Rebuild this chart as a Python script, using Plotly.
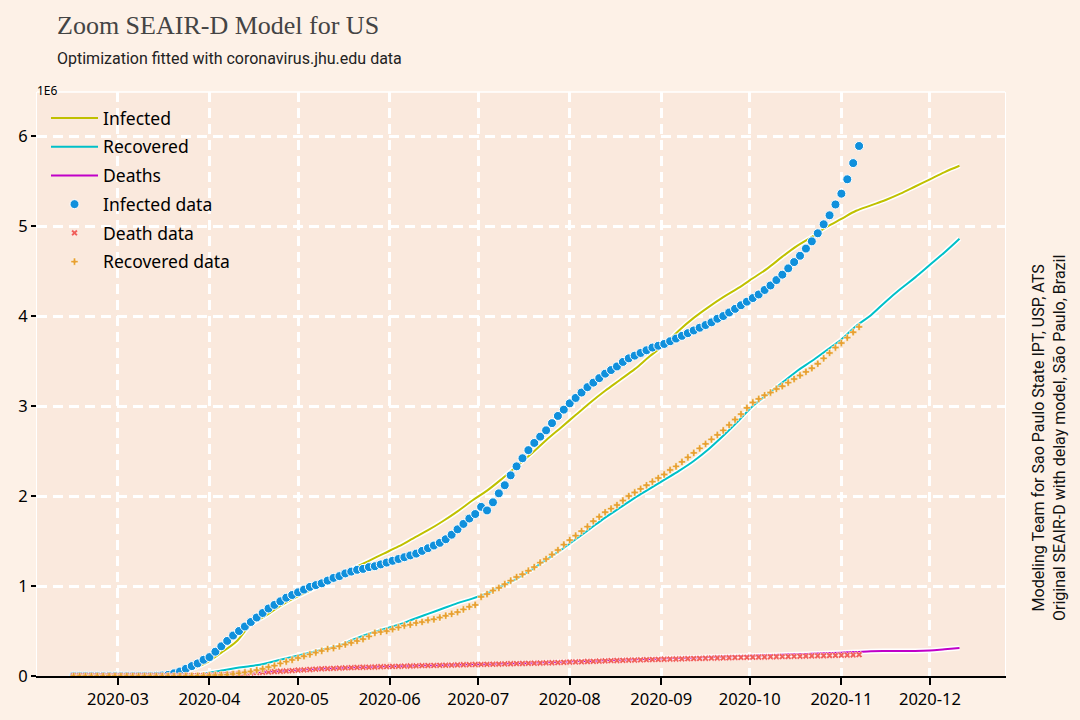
import plotly.graph_objects as go
import pandas as pd

# ---------------- data (values in millions) ----------------
data_start = "2020-02-15"   # observed data, every 2 days until 2020-11-07
model_start = "2020-02-15"  # model curves, every 5 days until 2020-12-11

infected_data = [
    0.0, 0.0, 0.0, 0.0, 0.0, 0.0, 0.0, 0.0, 0.0, 0.0,
    0.0, 0.0, 0.0, 0.0, 0.002, 0.005, 0.012, 0.03, 0.05, 0.08,
    0.11, 0.14, 0.18, 0.21, 0.27, 0.33, 0.39, 0.45, 0.50, 0.55,
    0.60, 0.65, 0.70, 0.75, 0.79, 0.83, 0.87, 0.90, 0.93, 0.96,
    0.99, 1.01, 1.03, 1.06, 1.09, 1.11, 1.14, 1.16, 1.18, 1.19,
    1.21, 1.22, 1.24, 1.26, 1.28, 1.30, 1.32, 1.34, 1.36, 1.39,
    1.42, 1.45, 1.48, 1.52, 1.57, 1.63, 1.69, 1.75, 1.80, 1.88,
    1.84, 1.93, 2.03, 2.12, 2.23, 2.33, 2.42, 2.51, 2.59, 2.66,
    2.73, 2.81, 2.89, 2.96, 3.03, 3.09, 3.15, 3.21, 3.26, 3.31,
    3.36, 3.40, 3.44, 3.49, 3.53, 3.56, 3.59, 3.62, 3.65, 3.67,
    3.69, 3.72, 3.75, 3.78, 3.81, 3.84, 3.87, 3.90, 3.93, 3.97,
    4.00, 4.04, 4.08, 4.12, 4.16, 4.20, 4.24, 4.29, 4.34, 4.40,
    4.46, 4.53, 4.60, 4.67, 4.75, 4.83, 4.92, 5.02, 5.12, 5.24,
    5.36, 5.52, 5.70, 5.89,
]

death_data = [
    0.0, 0.0, 0.0, 0.0, 0.0, 0.0, 0.0, 0.0, 0.0, 0.0,
    0.0, 0.0, 0.0, 0.0, 0.0, 0.0, 0.0, 0.0, 0.001, 0.001,
    0.002, 0.003, 0.004, 0.006, 0.009, 0.012, 0.016, 0.020, 0.025, 0.029,
    0.033, 0.038, 0.041, 0.045, 0.050, 0.053, 0.056, 0.060, 0.065, 0.068,
    0.072, 0.076, 0.080, 0.082, 0.085, 0.088, 0.090, 0.092, 0.095, 0.097,
    0.098, 0.100, 0.103, 0.104, 0.106, 0.108, 0.110, 0.111, 0.113, 0.115,
    0.116, 0.117, 0.119, 0.120, 0.121, 0.123, 0.125, 0.126, 0.128, 0.129,
    0.130, 0.131, 0.133, 0.135, 0.136, 0.138, 0.139, 0.141, 0.142, 0.144,
    0.146, 0.147, 0.149, 0.152, 0.155, 0.156, 0.158, 0.161, 0.163, 0.165,
    0.168, 0.171, 0.172, 0.174, 0.176, 0.177, 0.179, 0.181, 0.183, 0.184,
    0.186, 0.188, 0.189, 0.190, 0.192, 0.194, 0.195, 0.197, 0.199, 0.200,
    0.201, 0.203, 0.205, 0.206, 0.207, 0.209, 0.210, 0.211, 0.213, 0.214,
    0.215, 0.216, 0.218, 0.219, 0.221, 0.223, 0.224, 0.225, 0.227, 0.229,
    0.231, 0.232, 0.234, 0.237,
]

recovered_data = [
    0.0, 0.0, 0.0, 0.0, 0.0, 0.0, 0.0, 0.0, 0.0, 0.0,
    0.0, 0.0, 0.0, 0.0, 0.0, 0.0, 0.0, 0.0, 0.0, 0.001,
    0.002, 0.003, 0.005, 0.008, 0.010, 0.012, 0.015, 0.022, 0.030, 0.040,
    0.050, 0.065, 0.080, 0.100, 0.115, 0.140, 0.160, 0.180, 0.200, 0.220,
    0.240, 0.260, 0.280, 0.300, 0.310, 0.330, 0.350, 0.370, 0.390, 0.410,
    0.440, 0.480, 0.490, 0.500, 0.520, 0.540, 0.560, 0.570, 0.590, 0.600,
    0.620, 0.630, 0.650, 0.670, 0.690, 0.710, 0.740, 0.770, 0.790, 0.880,
    0.910, 0.950, 0.980, 1.020, 1.060, 1.100, 1.130, 1.170, 1.210, 1.260,
    1.300, 1.350, 1.400, 1.460, 1.510, 1.560, 1.610, 1.660, 1.720, 1.770,
    1.820, 1.860, 1.900, 1.950, 2.000, 2.040, 2.080, 2.120, 2.160, 2.200,
    2.240, 2.290, 2.330, 2.380, 2.430, 2.480, 2.530, 2.580, 2.630, 2.680,
    2.730, 2.790, 2.850, 2.910, 2.980, 3.040, 3.080, 3.120, 3.150, 3.190,
    3.220, 3.260, 3.300, 3.340, 3.380, 3.420, 3.470, 3.530, 3.590, 3.650,
    3.700, 3.760, 3.820, 3.880,
]

infected_model = [
    0.0, 0.0, 0.0, 0.0, 0.0, 0.002, 0.008, 0.03, 0.08, 0.15,
    0.26, 0.38, 0.57, 0.67, 0.78, 0.87, 0.95, 1.03, 1.11, 1.20,
    1.28, 1.36, 1.44, 1.53, 1.62, 1.72, 1.83, 1.95, 2.06, 2.19,
    2.33, 2.47, 2.62, 2.76, 2.90, 3.04, 3.17, 3.29, 3.41, 3.55,
    3.68, 3.84, 3.98, 4.10, 4.21, 4.31, 4.42, 4.53, 4.66, 4.78,
    4.88, 4.99, 5.08, 5.17, 5.23, 5.29, 5.36, 5.44, 5.52, 5.60,
    5.67,
]

recovered_model = [
    0.0, 0.0, 0.0, 0.0, 0.0, 0.0, 0.0, 0.003, 0.01, 0.03,
    0.06, 0.09, 0.11, 0.14, 0.18, 0.22, 0.26, 0.30, 0.34, 0.41,
    0.47, 0.52, 0.57, 0.63, 0.69, 0.75, 0.81, 0.86, 0.92, 1.00,
    1.08, 1.18, 1.29, 1.40, 1.52, 1.64, 1.76, 1.87, 1.98, 2.08,
    2.18, 2.28, 2.39, 2.52, 2.67, 2.83, 3.00, 3.13, 3.26, 3.39,
    3.50, 3.62, 3.74, 3.89, 4.01, 4.16, 4.30, 4.43, 4.57, 4.71,
    4.86,
]

deaths_model = [
    0.0, 0.0, 0.0, 0.0, 0.0, 0.0, 0.0, 0.001, 0.003, 0.006,
    0.012, 0.022, 0.033, 0.045, 0.055, 0.065, 0.074, 0.082, 0.089, 0.095,
    0.100, 0.105, 0.110, 0.114, 0.118, 0.122, 0.126, 0.130, 0.134, 0.138,
    0.142, 0.147, 0.152, 0.157, 0.163, 0.168, 0.174, 0.180, 0.185, 0.190,
    0.196, 0.201, 0.206, 0.211, 0.216, 0.221, 0.226, 0.231, 0.236, 0.241,
    0.247, 0.253, 0.259, 0.266, 0.275, 0.277, 0.277, 0.278, 0.284, 0.297,
    0.310,
]

y_ticks = [0, 1, 2, 3, 4, 5, 6]
x_ticks = ["2020-03-01", "2020-04-01", "2020-05-01", "2020-06-01", "2020-07-01",
           "2020-08-01", "2020-09-01", "2020-10-01", "2020-11-01", "2020-12-01"]
x_tick_labels = ["2020-03", "2020-04", "2020-05", "2020-06", "2020-07",
                 "2020-08", "2020-09", "2020-10", "2020-11", "2020-12"]

title_text = "Zoom SEAIR-D Model for US"
subtitle_text = "Optimization fitted with coronavirus.jhu.edu data"
credit_1 = "Modeling Team for Sao Paulo State IPT, USP, ATS"
credit_2 = "Original SEAIR-D with delay model, São Paulo, Brazil"

data_dates = pd.date_range(data_start, periods=len(infected_data), freq="2D")
model_dates = pd.date_range(model_start, periods=len(infected_model), freq="5D")

# ---------------- layout geometry ----------------
W, H = 1080, 720
ML, MR, MT, MB = 37, 75, 92, 44
PW, PH = W - ML - MR, H - MT - MB


def px(x):
    return (x - ML) / PW


def py(y):
    return (H - MB - y) / PH


# ---------------- styles ----------------
C_INF = "#c0c000"
C_REC = "#00c0c8"
C_DEA = "#c000c8"
C_INF_D = "#1090dc"
C_DEA_D = "#f0605a"
C_REC_D = "#e8a030"
HAND = "Noto Sans"

fig = go.Figure()

for i, (name, ys, col) in enumerate([("Infected", infected_model, C_INF),
                                      ("Recovered", recovered_model, C_REC),
                                      ("Deaths", deaths_model, C_DEA)]):
    fig.add_trace(go.Scatter(x=model_dates, y=ys, mode="lines",
                             line=dict(color="white", width=5, shape="spline"),
                             showlegend=False, hoverinfo="skip"))
    fig.add_trace(go.Scatter(x=model_dates, y=ys, mode="lines", name=name,
                             legendgroup="g%d" % i,
                             line=dict(color=col, width=2, shape="spline")))

fig.add_trace(go.Scatter(x=data_dates, y=infected_data, mode="markers", name="Infected data",
                         legendgroup="g3",
                         marker=dict(symbol="circle", size=9, color=C_INF_D,
                                     line=dict(color="white", width=1))))
fig.add_trace(go.Scatter(x=data_dates, y=death_data, mode="markers", name="Death data",
                         legendgroup="g4",
                         marker=dict(symbol="x", size=6, color=C_DEA_D,
                                     line=dict(color="white", width=0.5))))
fig.add_trace(go.Scatter(x=data_dates, y=recovered_data, mode="markers", name="Recovered data",
                         legendgroup="g5",
                         marker=dict(symbol="cross", size=6, color=C_REC_D,
                                     line=dict(color="white", width=0.5))))

fig.update_layout(
    width=W, height=H,
    paper_bgcolor="#fdf1e7",
    plot_bgcolor="#fae9dd",
    margin=dict(l=ML, r=MR, t=MT, b=MB),
    showlegend=True,
    legend=dict(x=px(46), y=py(100), xanchor="left", yanchor="top",
                bgcolor="rgba(0,0,0,0)", font=dict(family=HAND, size=17.5, color="black"),
                itemwidth=47, tracegroupgap=3, traceorder="grouped"),
    xaxis=dict(
        range=["2020-02-02 14:00", "2020-12-26 10:00"],
        tickvals=x_ticks, ticktext=x_tick_labels,
        tickfont=dict(family=HAND, size=16.5, color="black"),
        ticks="outside", ticklen=7, tickwidth=2, tickcolor="black",
        showline=True, linecolor="black", linewidth=2,
        showgrid=True, gridcolor="white", gridwidth=3, griddash="10px,6px",
        zeroline=False, automargin=False,
    ),
    yaxis=dict(
        range=[0, 6.49],
        tickvals=y_ticks, ticktext=[str(v) for v in y_ticks],
        tickfont=dict(family=HAND, size=16.5, color="black"),
        ticks="outside", ticklen=5, tickwidth=2, tickcolor="black",
        showline=True, linecolor="white", linewidth=1, mirror=True,
        showgrid=True, gridcolor="white", gridwidth=3, griddash="10px,6px",
        zeroline=False, automargin=False,
    ),
    shapes=[dict(type="line", xref="paper", yref="paper", x0=0, x1=1, y0=1, y1=1,
                 line=dict(color="white", width=1.5))],
    annotations=[
        dict(text=title_text, xref="paper", yref="paper", x=px(55), y=py(9),
             xanchor="left", yanchor="top", showarrow=False,
             font=dict(family="Liberation Serif", size=26, color="#444444")),
        dict(text=subtitle_text, xref="paper", yref="paper", x=px(55), y=py(47),
             xanchor="left", yanchor="top", showarrow=False,
             font=dict(family="Roboto", size=16, color="#222222")),
        dict(text="1E6", xref="paper", yref="paper", x=px(35), y=py(80),
             xanchor="left", yanchor="top", showarrow=False,
             font=dict(family=HAND, size=12, color="black")),
        dict(text=credit_1 + "<br>" + credit_2, xref="paper", yref="paper",
             x=px(1049), y=py(438), xanchor="center", yanchor="middle",
             showarrow=False, textangle=-90, align="center",
             font=dict(family="Roboto", size=16, color="#111111")),
    ],
)

fig.write_html("out.html", config={"displayModeBar": False},
               post_script="document.body.style.margin='0';")
